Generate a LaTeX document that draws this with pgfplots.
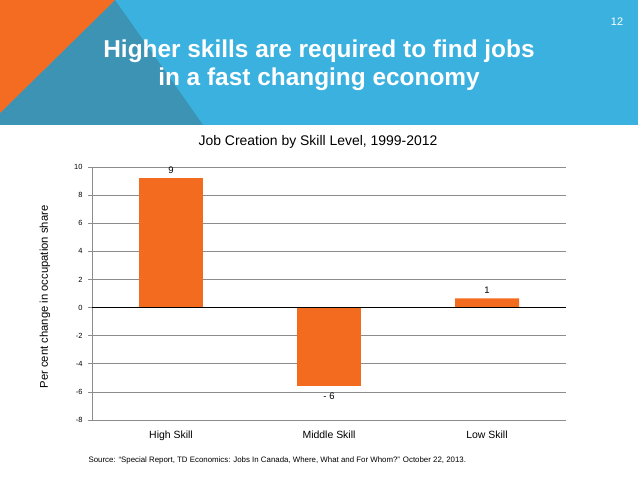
\documentclass[border=0pt]{standalone}
\usepackage{pgfplots}
\pgfplotsset{compat=1.18}
\usepackage{fontspec}
\setmainfont{Liberation Sans}
\definecolor{hdrblue}{HTML}{3BB1E0}
\definecolor{darkblue}{HTML}{3C93B4}
\definecolor{slideorange}{HTML}{F36C21}
\definecolor{barorange}{HTML}{F26B1F}
\definecolor{gridgray}{HTML}{8C8C8C}
\begin{document}
\begin{tikzpicture}
% background
\fill[white] (0,0) rectangle (638bp,479bp);
\fill[hdrblue] (0,354bp) rectangle (638bp,479bp);
\fill[darkblue] (115bp,479bp) -- (203bp,354bp) -- (0,354bp) -- (0,366bp) -- cycle;
\fill[slideorange] (0,479bp) -- (115bp,479bp) -- (0,366bp) -- cycle;
\node[white, font=\fontsize{11}{13}\selectfont] at (617bp,457bp) {12};
\node[white, align=center, font=\fontsize{24.5}{28}\bfseries\selectfont] at (319bp,414bp)
  {Higher skills are required to find jobs\\in a fast changing economy};
\node[font=\fontsize{14}{16}\selectfont] at (318bp,337bp) {Job Creation by Skill Level, 1999-2012};
\node[rotate=90, font=\fontsize{11.3}{13}\selectfont] at (45bp,182bp) {Per cent change in occupation share};
\node[anchor=west, font=\fontsize{7.9}{9}\selectfont] at (85bp,19bp)
  {Source: ``Special Report, TD Economics: Jobs In Canada, Where, What and For Whom?'' October 22, 2013.};
\begin{axis}[
  at={(92bp,59bp)}, anchor=south west,
  scale only axis, width=474bp, height=253bp,
  xmin=-0.5, xmax=2.5, ymin=-8, ymax=10,
  xtick={0,1,2}, xticklabels={High Skill, Middle Skill, Low Skill},
  ytick={-8,-6,...,10},
  axis lines*=left,
  axis line style={gridgray, line width=0.6bp},
  ymajorgrids, grid style={gridgray, line width=0.6bp},
  tick align=outside,
  ytick style={gridgray, line width=0.6bp},
  major tick length=4bp,
  x tick style={draw=none},
  /pgf/number format/assume math mode=true,
  yticklabel style={font=\fontsize{7.5}{9}\selectfont, xshift=-2bp},
  xticklabel style={font=\fontsize{10.5}{12}\selectfont, yshift=-3bp},
  ybar, bar width=0.405, bar shift=0pt,
  nodes near coords, point meta=explicit symbolic,
  every node near coord/.append style={font=\fontsize{9.5}{11}\selectfont, black, yshift=1.5bp},
  clip=false,
]
\addplot[fill=barorange, draw=none] coordinates {(0,9.2)[9] (2,0.65)[1]};
\addplot[fill=barorange, draw=none,
  every node near coord/.append style={anchor=north, yshift=-4.5bp}] coordinates {(1,-5.6)[- 6]};
\draw[black, line width=0.8bp] (axis cs:-0.5,0) -- (axis cs:2.5,0);
\end{axis}
\end{tikzpicture}
\end{document}
